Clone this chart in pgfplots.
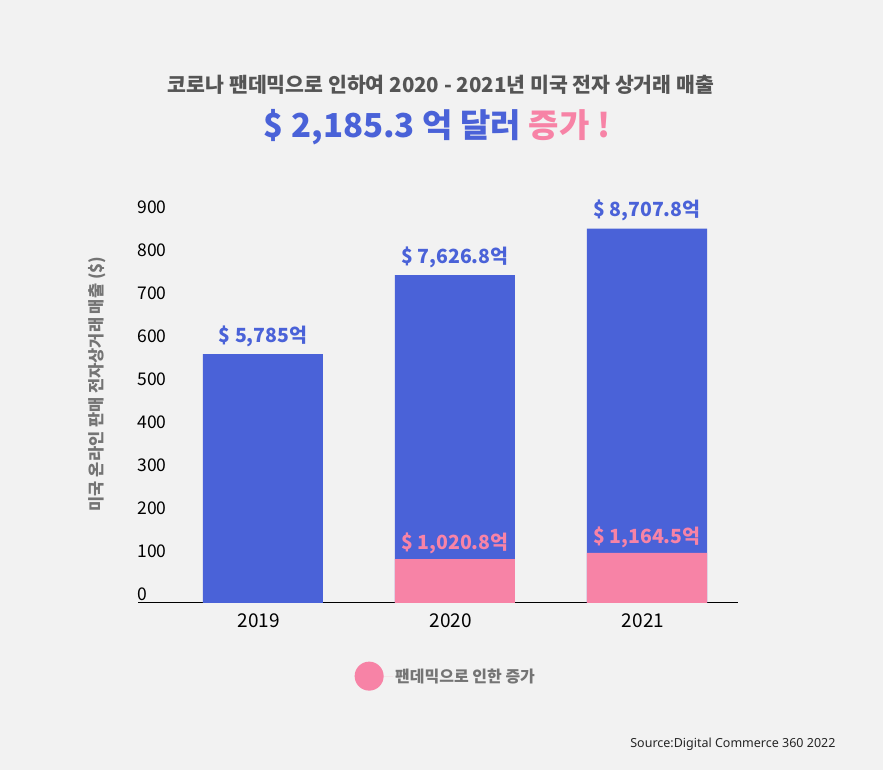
\documentclass[border=0pt]{standalone}
\usepackage{pgfplots}
\pgfplotsset{compat=1.18}
\usepackage{fontspec}
\setmainfont{Noto Sans CJK KR}
\newfontfamily\notosans{Noto Sans}
\definecolor{bgc}{HTML}{F2F2F2}
\definecolor{bluec}{HTML}{4A62D8}
\definecolor{pinkc}{HTML}{F783A6}
\definecolor{grayt}{HTML}{555555}
\definecolor{grayl}{HTML}{747474}
\begin{document}
\begin{tikzpicture}[x=1pt,y=1pt]
\fill[bgc] (0,0) rectangle (883,770);
\node[font=\bfseries\fontsize{20.5}{24}\selectfont, text=grayt] at (441,685) {코로나 팬데믹으로 인하여 2020 - 2021년 미국 전자 상거래 매출};
\node[font=\bfseries\fontsize{33}{36}\selectfont] at (437,643) {\textcolor{bluec}{\$ 2,185.3 억 달러} \textcolor{pinkc}{증가 !}};
\node[font=\notosans\fontsize{12.5}{14}\selectfont, text=black!85, anchor=east] at (839,26) {Source:Digital Commerce 360 2022};
\begin{axis}[
  at={(138pt,167pt)}, anchor=south west,
  width=600pt, height=387pt, scale only axis,
  xmin=-0.651, xmax=2.474, ymin=0, ymax=900,
  enlargelimits=false, clip=false,
  ybar, bar width=120pt, bar shift=0pt,
  axis x line=bottom, axis y line=left,
  x axis line style={-, black, line width=1pt},
  y axis line style={draw=none},
  xtick={0,1,2}, xticklabels={2019,2020,2021},
  ytick={0,100,...,900},
  major tick length=0pt,
  tick style={draw=none},
  xticklabel style={font=\fontsize{19}{21}\selectfont, yshift=-7pt, xshift=-4pt},
  yticklabel style={font=\fontsize{17.5}{20}\selectfont, anchor=west, xshift=-4pt, yshift=9pt},
  /pgf/number format/assume math mode=true,
  ylabel={미국 온라인 판매 전자상거래 매출 (\$)},
  ylabel style={at={(rel axis cs:-0.068,0.566)}, anchor=center, font=\bfseries\fontsize{16.5}{18}\selectfont, text=grayl},
  legend style={at={(0.513,-0.189)}, anchor=center, draw=none, fill=none,
    font=\bfseries\fontsize{16}{18}\selectfont, text=grayl},
  point meta=explicit symbolic,
  nodes near coords,
]
\addplot[fill=bluec, draw=none, forget plot,
  every node near coord/.style={font=\bfseries\fontsize{19.5}{22}\selectfont, text=bluec, anchor=center, yshift=18pt}]
  coordinates {(0,578.5) [{\$ 5,785억}] (1,762.68) [{\$ 7,626.8억}] (2,870.78) [{\$ 8,707.8억}]};
\addplot[fill=pinkc, draw=none,
  legend image code/.code={\fill[pinkc] (0pt,0pt) circle (14.5pt); \path (-14.5pt,0pt) -- (24pt,0pt);},
  every node near coord/.style={font=\bfseries\fontsize{19.5}{22}\selectfont, text=pinkc, anchor=center, yshift=16pt}]
  coordinates {(1,102.08) [{\$ 1,020.8억}] (2,116.45) [{\$ 1,164.5억}]};
\addlegendentry{팬데믹으로 인한 증가}
\end{axis}
\end{tikzpicture}
\end{document}
